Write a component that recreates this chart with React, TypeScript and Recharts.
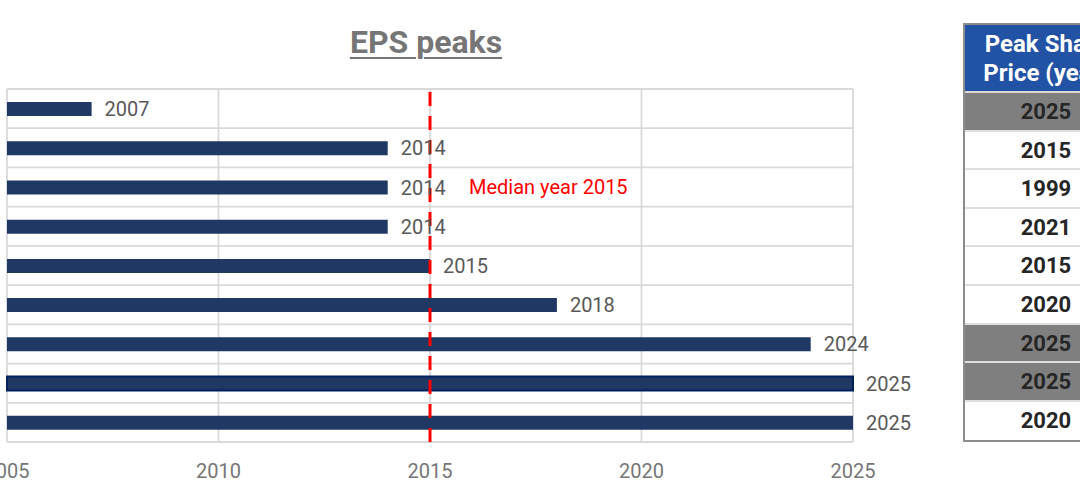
import React from 'react';
import {
  BarChart,
  Bar,
  XAxis,
  YAxis,
  CartesianGrid,
  ReferenceLine,
  ReferenceDot,
  LabelList,
  Cell,
} from 'recharts';

// ---- data ----
const categories = ['R1', 'R2', 'R3', 'R4', 'R5', 'R6', 'R7', 'R8', 'R9'];
const epsPeakYears = [2007, 2014, 2014, 2014, 2015, 2018, 2024, 2025, 2025];
const xTicks = [2005, 2010, 2015, 2020, 2025];
const medianYear = 2015;
const medianLabel = 'Median year 2015';
const outlinedRow = 7;
const title = 'EPS peaks';
const tableHeader = ['Peak Share', 'Price (year)'];
const peakPriceYears = [2025, 2015, 1999, 2021, 2015, 2020, 2025, 2025, 2020];
const highlightYear = 2025;

const chartData = categories.map((name, i) => ({ name, value: epsPeakYears[i] }));

const FONT = 'Roboto, "Noto Sans", sans-serif';

export default function App() {
  const n = categories.length;
  return (
    <div style={{ position: 'relative', width: 1080, height: 503, fontFamily: FONT, overflow: 'hidden' }}>
      <style>{'body{margin:0}'}</style>
      <div
        style={{
          position: 'absolute',
          left: 0,
          top: 26,
          width: 852,
          textAlign: 'center',
          fontSize: 32,
          lineHeight: '32px',
          fontWeight: 700,
          color: '#767676',
          textDecoration: 'underline',
          textDecorationThickness: 2,
          textUnderlineOffset: 4,
        }}
      >
        {title}
      </div>
      <div style={{ position: 'absolute', left: 0, top: 0 }}>
        <BarChart
          width={940}
          height={503}
          data={chartData}
          layout="vertical"
          margin={{ top: 89, right: 87, bottom: 31, left: 7 }}
        >
          <CartesianGrid
            stroke="#d9d9d9"
            strokeWidth={1.8}
            horizontalCoordinatesGenerator={({ offset }: any) =>
              Array.from({ length: n + 1 }, (_, i) => offset.top + (i * offset.height) / n)
            }
          />
          <XAxis
            type="number"
            domain={[2005, 2025]}
            ticks={xTicks}
            axisLine={false}
            tickLine={false}
            tickSize={6}
            tickMargin={16}
            height={30}
            interval={0}
            tick={{ fill: '#767676', fontSize: 20, fontFamily: FONT }}
          />
          <YAxis type="category" dataKey="name" hide />
          <Bar dataKey="value" barSize={14} fill="#1f3864" isAnimationActive={false}>
            {chartData.map((_, i) => (
              <Cell
                key={i}
                fill="#1f3864"
                stroke={i === outlinedRow ? '#002060' : 'none'}
                strokeWidth={i === outlinedRow ? 2 : 0}
              />
            ))}
            <LabelList
              dataKey="value"
              position="right"
              offset={13}
              fill="#595959"
              fontSize={20}
              fontFamily={FONT}
            />
          </Bar>
          <ReferenceLine
            x={medianYear}
            stroke="#ff0000"
            strokeWidth={3}
            strokeDasharray="14 10"
          />
          <ReferenceDot
            x={medianYear}
            y={categories[2]}
            r={1}
            fill="none"
            stroke="none"
            label={{
              value: medianLabel,
              position: 'right',
              offset: 38,
              fill: '#ff0000',
              fontSize: 20,
              fontFamily: FONT,
            }}
          />
        </BarChart>
      </div>
      <div
        style={{
          position: 'absolute',
          left: 963,
          top: 23,
          width: 166,
          border: '2px solid #8c8c8c',
          boxSizing: 'border-box',
          fontFamily: FONT,
          fontWeight: 700,
        }}
      >
        <div
          style={{
            height: 68,
            background: '#2252a3',
            color: '#ffffff',
            fontSize: 24,
            lineHeight: '29px',
            textAlign: 'center',
            paddingTop: 5,
            boxSizing: 'border-box',
            borderBottom: '2px solid #d9d9d9',
          }}
        >
          {tableHeader.map((t, i) => (
            <div key={i}>{t}</div>
          ))}
        </div>
        {peakPriceYears.map((y, i) => (
          <div
            key={i}
            style={{
              height: 38.6,
              boxSizing: 'border-box',
              background: y === highlightYear ? '#7f7f7f' : '#ffffff',
              color: '#262626',
              fontSize: 22,
              lineHeight: '37px',
              textAlign: 'center',
              borderBottom: i < peakPriceYears.length - 1 ? '2px solid #dedede' : 'none',
            }}
          >
            {y}
          </div>
        ))}
      </div>
    </div>
  );
}
